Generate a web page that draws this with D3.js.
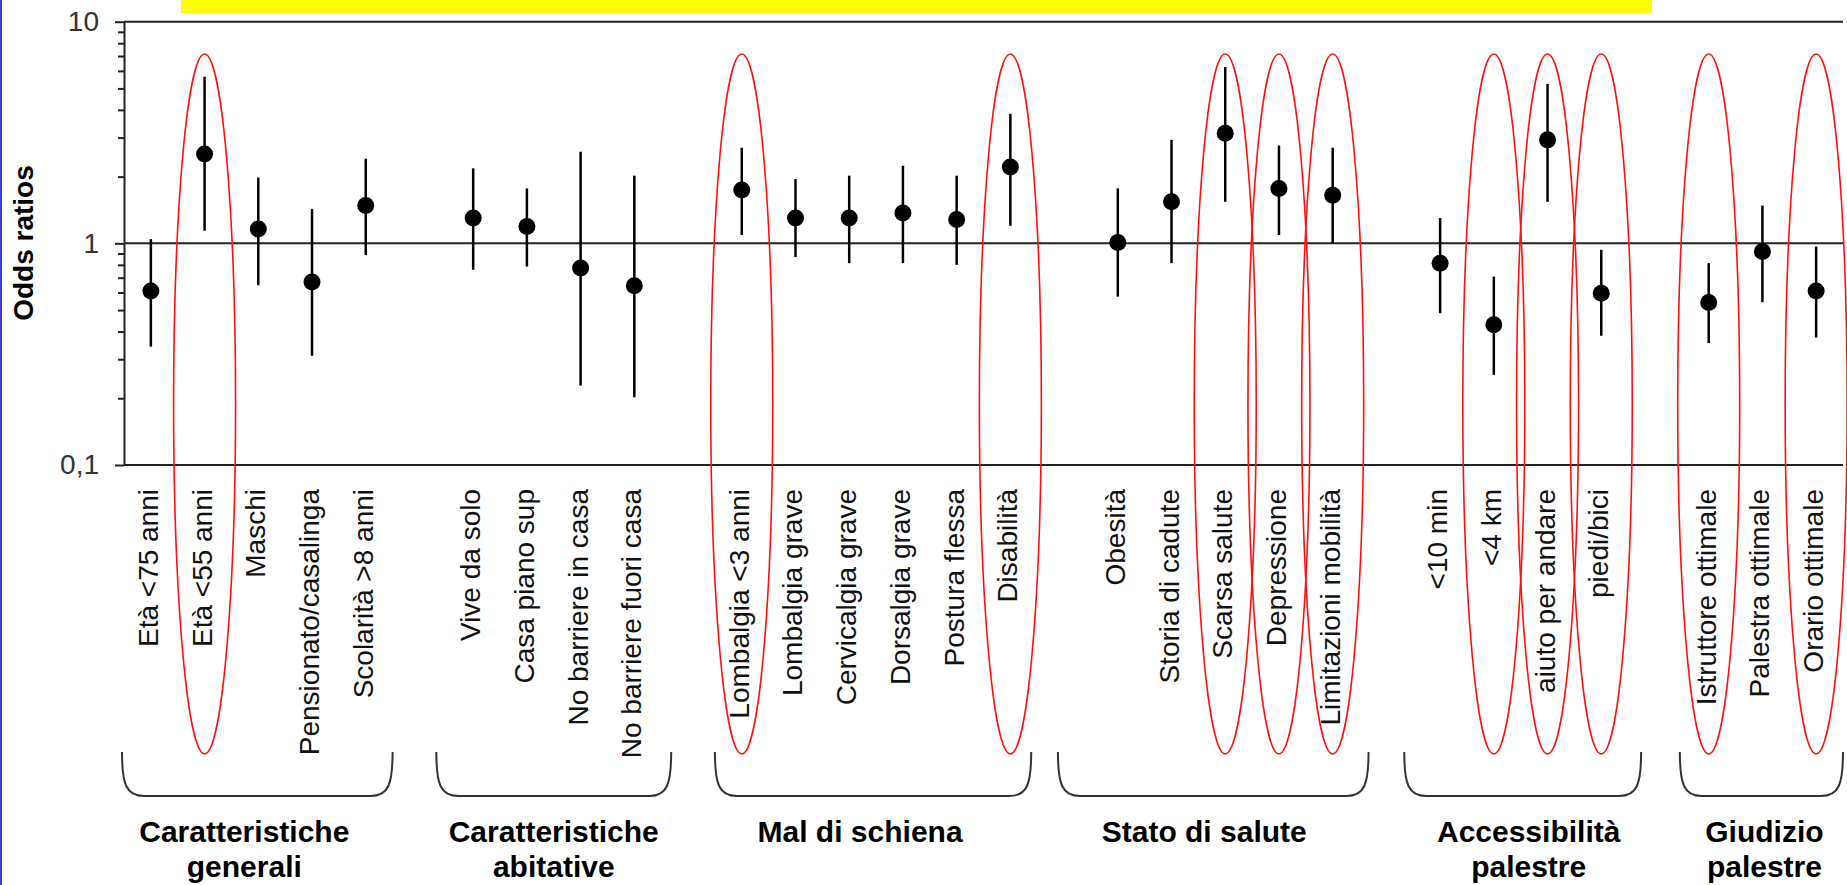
<!DOCTYPE html>
<html>
<head>
<meta charset="utf-8">
<script src="https://cdn.jsdelivr.net/npm/d3@7"></script>
<style>
	body { margin: 0; background: #fff; }
	svg { display: block; font-family: 'Liberation Sans', Arial, sans-serif; }
</style>
</head>
<body>
<div id="chart"></div>
<script>
var width = 1847;
var height = 885;

// categories, grouped
var groupNames = [
	['Caratteristiche', 'generali'],
	['Caratteristiche', 'abitative'],
	['Mal di schiena'],
	['Stato di salute'],
	['Accessibilità', 'palestre'],
	['Giudizio', 'palestre']
];
var groupLabels = [
	['Età <75 anni', 'Età <55 anni', 'Maschi', 'Pensionato/casalinga', 'Scolarità >8 anni'],
	['Vive da solo', 'Casa piano sup', 'No barriere in casa', 'No barriere fuori casa'],
	['Lombalgia <3 anni', 'Lombalgia grave', 'Cervicalgia grave', 'Dorsalgia grave', 'Postura flessa', 'Disabilità'],
	['Obesità', 'Storia di cadute', 'Scarsa salute', 'Depressione', 'Limitazioni mobilità'],
	['<10 min', '<4 km', 'aiuto per andare', 'piedi/bici'],
	['Istruttore ottimale', 'Palestra ottimale', 'Orario ottimale']
];

// odds ratios with 95% CI, same order as the labels above
var oddsRatio = [0.61, 2.53, 1.16, 0.67, 1.48, 1.30, 1.19, 0.775, 0.643, 1.74, 1.30, 1.30, 1.37, 1.28, 2.21,
	1.01, 1.54, 3.14, 1.77, 1.65, 0.814, 0.429, 2.93, 0.596, 0.541, 0.918, 0.61];
var ciLow = [0.342, 1.14, 0.647, 0.311, 0.885, 0.76, 0.786, 0.228, 0.202, 1.09, 0.867, 0.814, 0.814, 0.80, 1.20,
	0.575, 0.814, 1.54, 1.09, 1.0, 0.484, 0.255, 1.54, 0.383, 0.355, 0.543, 0.376];
var ciHigh = [1.045, 5.65, 1.98, 1.43, 2.41, 2.18, 1.77, 2.59, 2.02, 2.70, 1.95, 2.02, 2.24, 2.02, 3.84,
	1.77, 2.93, 6.24, 2.76, 2.70, 1.30, 0.708, 5.24, 0.935, 0.814, 1.48, 0.967];

// circled in red
var highlighted = ['Età <55 anni', 'Lombalgia <3 anni', 'Disabilità', 'Scarsa salute', 'Depressione',
	'Limitazioni mobilità', '<4 km', 'aiuto per andare', 'piedi/bici', 'Istruttore ottimale', 'Orario ottimale'];

var majorTicks = [0.1, 1, 10];
var tickLabels = ['0,1', '1', '10'];
var minorTicks = [0.2, 0.3, 0.4, 0.5, 0.6, 0.7, 0.8, 0.9, 2, 3, 4, 5, 6, 7, 8, 9];

var plot = { left: 124, right: 1843, top: 21.7, bottom: 465 };

// hand drawn braces don't sit exactly on the bands: [left, right] overhang, and name shift
var bracketPad = [[2, 0], [10, 10], [0, -6], [33, 9], [9, 13], [2, 0]];
var nameShift = [-13, 0, -13, -9, 6, 3];

// one empty slot between groups
var slots = [];
var labels = [];
groupLabels.forEach(function(g, i) {
	if (i > 0) { slots.push('gap' + i); }
	g.forEach(function(l) { slots.push(l); labels.push(l); });
});

var data = labels.map(function(l, i) {
	return { label: l, or: oddsRatio[i], lo: ciLow[i], hi: ciHigh[i] };
});

var x = d3.scaleBand()
	.domain(slots)
	.range([plot.left, plot.right]);

var y = d3.scaleLog()
	.domain([0.1, 10])
	.range([plot.bottom, plot.top]);

var cx = function(l) { return x(l) + x.bandwidth() / 2; };

var svg = d3.select('#chart').append('svg')
	.attr('width', width)
	.attr('height', height);

svg.append('rect')
	.attr('width', width)
	.attr('height', height)
	.attr('fill', '#fff');

// slide decorations
svg.append('rect')
	.attr('x', 0).attr('y', 0)
	.attr('width', 2).attr('height', height)
	.attr('fill', '#3c3cd6');

svg.append('rect')
	.attr('x', 181).attr('y', 0)
	.attr('width', 1471).attr('height', 13)
	.attr('fill', '#ffff00');

// y axis
var minorAxis = svg.append('g')
	.attr('transform', 'translate(' + plot.left + ',0)')
	.call(d3.axisLeft(y).tickValues(minorTicks).tickSize(6).tickSizeOuter(0).tickFormat(''));
minorAxis.select('.domain').remove();

var yAxis = svg.append('g')
	.attr('transform', 'translate(' + plot.left + ',0)')
	.call(d3.axisLeft(y)
		.tickValues(majorTicks)
		.tickSize(9)
		.tickSizeOuter(0)
		.tickPadding(16)
		.tickFormat(function(d, i) { return tickLabels[i]; }));

svg.selectAll('.tick line, .domain')
	.attr('stroke', '#222')
	.attr('stroke-width', 2);

yAxis.selectAll('text')
	.attr('font-size', 28)
	.attr('fill', '#333')
	.attr('font-family', 'Liberation Sans, Arial, sans-serif');

// horizontal lines at 10, 1, 0.1
svg.selectAll('.hline')
	.data(majorTicks)
	.enter().append('line')
	.attr('class', 'hline')
	.attr('x1', plot.left)
	.attr('x2', plot.right)
	.attr('y1', function(d) { return y(d); })
	.attr('y2', function(d) { return y(d); })
	.attr('stroke', '#222')
	.attr('stroke-width', 2);

svg.append('text')
	.attr('transform', 'translate(33,243) rotate(-90)')
	.attr('text-anchor', 'middle')
	.attr('font-size', 28)
	.attr('font-weight', 'bold')
	.text('Odds ratios');

// error bars & points
var mark = svg.selectAll('.mark')
	.data(data)
	.enter().append('g')
	.attr('class', 'mark');

mark.append('line')
	.attr('x1', function(d) { return cx(d.label); })
	.attr('x2', function(d) { return cx(d.label); })
	.attr('y1', function(d) { return y(d.lo); })
	.attr('y2', function(d) { return y(d.hi); })
	.attr('stroke', '#000')
	.attr('stroke-width', 2.5);

mark.append('circle')
	.attr('cx', function(d) { return cx(d.label); })
	.attr('cy', function(d) { return y(d.or); })
	.attr('r', 8.5)
	.attr('fill', '#000');

// category labels
svg.selectAll('.cat')
	.data(labels)
	.enter().append('text')
	.attr('class', 'cat')
	.attr('transform', function(d) { return 'translate(' + cx(d) + ',489) rotate(-90)'; })
	.attr('text-anchor', 'end')
	.attr('dy', '0.25em')
	.attr('font-size', 28)
	.attr('fill', '#111')
	.text(function(d) { return d; });

// group brackets & names
var groups = groupNames.map(function(n, i) {
	var g = groupLabels[i];
	return {
		name: n,
		x0: x(g[0]) - bracketPad[i][0],
		x1: x(g[g.length - 1]) + x.bandwidth() + bracketPad[i][1],
		shift: nameShift[i]
	};
});

var bTop = 752;
var bBottom = 796;

svg.selectAll('.bracket')
	.data(groups)
	.enter().append('path')
	.attr('class', 'bracket')
	.attr('d', function(d) {
		return 'M' + d.x0 + ',' + bTop +
			'C' + d.x0 + ',' + (bTop + 32) + ' ' + (d.x0 + 4) + ',' + bBottom + ' ' + (d.x0 + 22) + ',' + bBottom +
			'L' + (d.x1 - 22) + ',' + bBottom +
			'C' + (d.x1 - 4) + ',' + bBottom + ' ' + d.x1 + ',' + (bTop + 32) + ' ' + d.x1 + ',' + bTop;
	})
	.attr('fill', 'none')
	.attr('stroke', '#333')
	.attr('stroke-width', 2);

var gName = svg.selectAll('.gname')
	.data(groups)
	.enter().append('text')
	.attr('class', 'gname')
	.attr('text-anchor', 'middle')
	.attr('font-size', 30)
	.attr('font-weight', 'bold')
	.attr('fill', '#000');

gName.selectAll('tspan')
	.data(function(d) {
		return d.name.map(function(t) { return { t: t, x: (d.x0 + d.x1) / 2 + d.shift }; });
	})
	.enter().append('tspan')
	.attr('x', function(d) { return d.x; })
	.attr('y', function(d, i) { return 842 + i * 35; })
	.text(function(d) { return d.t; });

// red ellipses
svg.selectAll('.ring')
	.data(highlighted)
	.enter().append('ellipse')
	.attr('class', 'ring')
	.attr('cx', function(d) { return cx(d); })
	.attr('cy', 404)
	.attr('rx', 31)
	.attr('ry', 350)
	.attr('fill', 'none')
	.attr('stroke', '#ff1010')
	.attr('stroke-width', 1.6);
</script>
</body>
</html>
